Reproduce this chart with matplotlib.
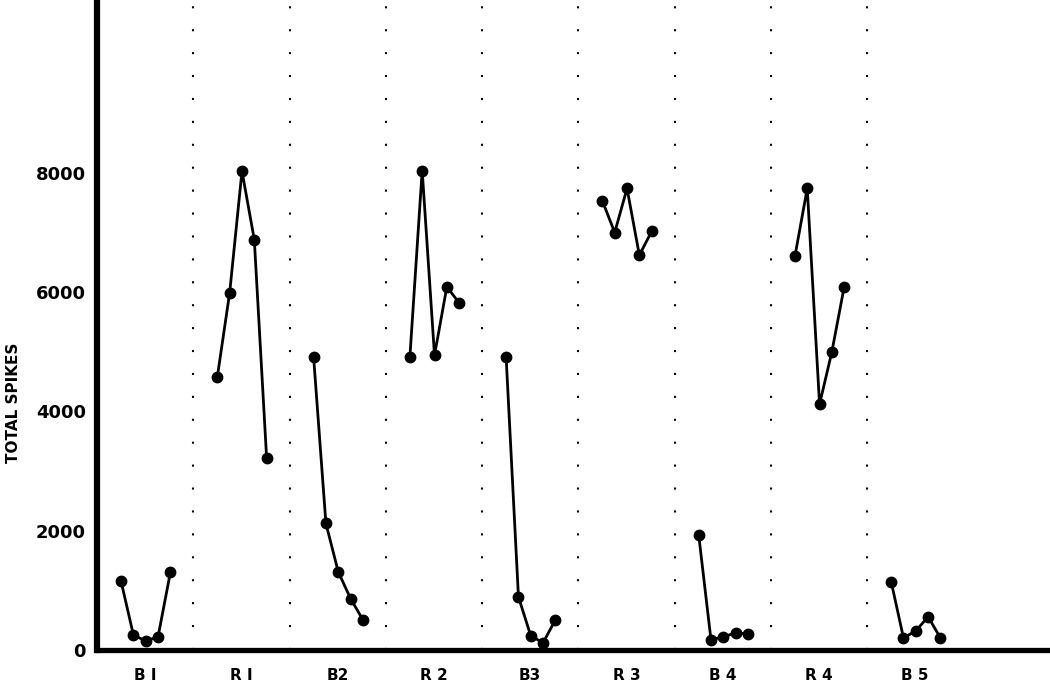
import matplotlib.pyplot as plt

# session labels (B = baseline, R = reinforcement)
groups = ["B I", "R I", "B2", "R 2", "B3", "R 3", "B 4", "R 4", "B 5"]

# total spikes for the 5 trials in each session
b1 = [1150, 250, 150, 220, 1300]
r1 = [4580, 5990, 8030, 6880, 3215]
b2 = [4910, 2120, 1310, 860, 505]
r2 = [4910, 8040, 4940, 6090, 5820]
b3 = [4910, 890, 235, 120, 505]
r3 = [7530, 7000, 7740, 6620, 7020]
b4 = [1935, 170, 220, 285, 270]
r4 = [6600, 7740, 4120, 5000, 6090]
b5 = [1145, 200, 320, 555, 200]

sessions = [b1, r1, b2, r2, b3, r3, b4, r4, b5]
yticks = [0, 2000, 4000, 6000, 8000]

fig = plt.figure(figsize=(10.5, 6.87), dpi=100)
ax = fig.add_axes([0.0924, 0.054, 0.9076, 0.946])

for i, vals in enumerate(sessions):
    xs = [i + 0.25 + j * 0.128 for j in range(len(vals))]
    ax.plot(xs, vals, color="black", lw=2.0, marker="o", ms=7.5,
            markerfacecolor="black", markeredgecolor="black")

# dotted separators between sessions
for i in range(1, len(sessions)):
    ax.axvline(i, color="black", lw=1.5, linestyle=(0, (1, 10)))

ax.set_xlim(0, 9.9)
ax.set_ylim(0, 10900)

for s in ["top", "right"]:
    ax.spines[s].set_visible(False)
ax.spines["left"].set_linewidth(4.5)
ax.spines["bottom"].set_linewidth(3.8)

ax.set_yticks(yticks)
ax.set_yticklabels([str(v) for v in yticks], fontsize=13, fontweight="bold")
ax.set_xticks([i + 0.5 for i in range(len(groups))])
ax.set_xticklabels(groups, fontsize=11, fontweight="bold")
ax.tick_params(axis="both", length=0)
ax.tick_params(axis="y", pad=8)
ax.tick_params(axis="x", pad=13)

ax.set_ylabel("TOTAL SPIKES", fontsize=11, fontweight="bold", labelpad=14)
ax.yaxis.set_label_coords(-0.08, 0.38)

fig.savefig("out.png", dpi=100)
